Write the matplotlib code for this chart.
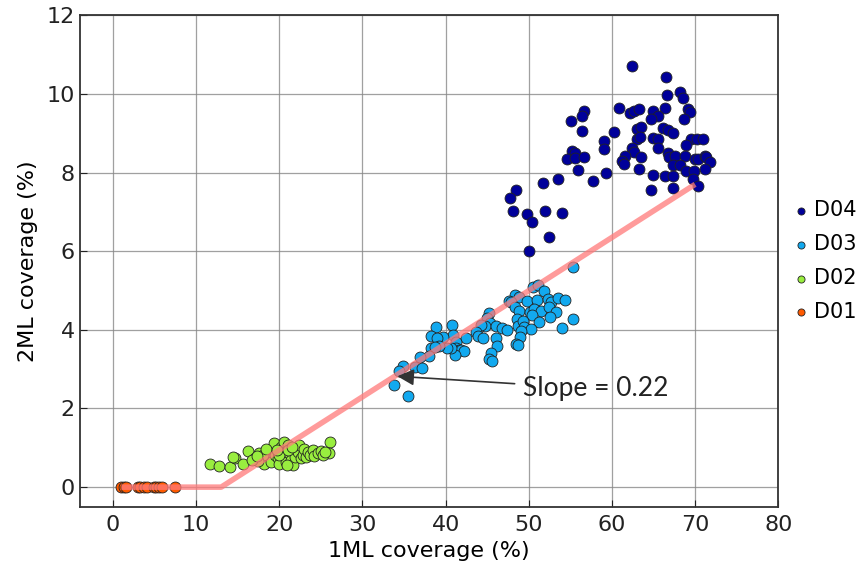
import numpy as np
import matplotlib
matplotlib.use("Agg")
import matplotlib.pyplot as plt

# Datos (x = cobertura 1ML %, y = cobertura 2ML %)
d01_x = [1.0, 1.3, 1.6, 3.0, 3.3, 3.7, 4.1, 4.9, 5.2, 5.5, 5.9, 7.4]
d01_y = [0.0] * len(d01_x)

d02_x = [11.7, 12.7, 14.1, 16.2, 14.7, 14.4, 15.6, 26.1, 26.0, 17.1, 17.6, 17.8,
         18.2, 18.6, 18.8, 19.0, 19.2, 19.4, 19.5, 19.8, 19.9, 20.2, 20.4, 20.6,
         20.7, 20.8, 21.1, 21.2, 21.4, 21.6, 21.8, 21.9, 22.2, 22.4, 22.6, 22.8,
         23.0, 23.2, 23.4, 23.7, 24.0, 24.2, 24.6, 25.0, 25.2, 25.5, 18.0, 17.4,
         16.7, 17.3, 18.4, 20.0, 19.7, 21.0, 21.5, 20.9]
d02_y = [0.59, 0.54, 0.52, 0.92, 0.73, 0.77, 0.59, 1.14, 0.88, 0.73, 0.86, 0.73,
         0.60, 0.90, 0.77, 0.64, 0.98, 1.11, 0.83, 0.73, 0.58, 1.03, 0.90, 1.15,
         0.77, 0.64, 1.07, 0.86, 0.68, 0.56, 0.98, 0.77, 0.90, 1.07, 0.73, 0.83,
         0.96, 0.77, 0.90, 0.83, 0.94, 0.80, 0.86, 0.92, 0.83, 0.90, 0.81, 0.66,
         0.69, 0.79, 0.98, 0.81, 0.94, 0.94, 1.03, 0.56]

d03_x = [55.3, 50.5, 51.1, 51.8, 48.3, 48.8, 47.6, 47.9, 49.8, 51.0, 52.3, 52.7,
         53.5, 54.3, 48.3, 48.8, 50.1, 50.6, 51.5, 52.4, 53.3, 52.5, 50.4, 51.2,
         55.3, 54.0, 48.6, 48.7, 49.3, 49.4, 50.3, 49.1, 49.0, 48.5, 48.7, 45.2,
         45.0, 45.3, 44.7, 44.2, 43.6, 43.9, 44.5, 46.1, 46.8, 47.4, 46.0, 46.2,
         45.4, 45.2, 45.6, 42.4, 40.8, 40.9, 41.2, 41.3, 41.6, 41.9, 42.2, 41.1,
         40.6, 40.2, 38.9, 38.2, 39.7, 39.0, 39.2, 38.2, 38.7, 38.0, 36.9, 36.3,
         37.1, 34.9, 34.4, 33.8, 35.5]
d03_y = [5.59, 5.10, 5.14, 5.00, 4.89, 4.84, 4.74, 4.72, 4.74, 4.76, 4.78, 4.72,
         4.82, 4.76, 4.59, 4.48, 4.46, 4.52, 4.49, 4.59, 4.46, 4.33, 4.38, 4.21,
         4.27, 4.04, 4.27, 4.10, 4.22, 4.08, 4.01, 3.98, 3.82, 3.64, 3.61, 4.42,
         4.29, 4.18, 4.10, 4.12, 3.95, 3.84, 3.78, 4.10, 4.04, 3.99, 3.78, 3.59,
         3.40, 3.27, 3.21, 3.78, 4.12, 3.87, 3.70, 3.53, 3.49, 3.49, 3.46, 3.36,
         3.55, 3.53, 4.06, 3.84, 3.81, 3.78, 3.59, 3.55, 3.57, 3.33, 3.32, 3.05,
         3.02, 3.08, 2.96, 2.60, 2.32]

d04_x = [62.4, 66.5, 66.6, 68.2, 68.6, 60.9, 62.2, 62.6, 63.2, 66.4, 65.0, 65.6,
         64.7, 69.2, 69.4, 68.7, 56.6, 56.4, 55.1, 56.4, 60.2, 63.0, 63.5, 66.2,
         66.7, 67.3, 63.0, 63.4, 65.0, 65.6, 69.5, 70.2, 71.0, 59.1, 59.1, 62.4,
         62.7, 65.5, 68.9, 55.2, 55.5, 54.6, 55.5, 56.7, 61.6, 61.2, 61.4, 63.5,
         66.8, 66.9, 67.6, 68.8, 70.0, 70.4, 71.2, 71.3, 71.8, 71.2, 63.3, 67.4,
         68.2, 68.9, 69.9, 55.9, 59.3, 65.0, 66.4, 67.4, 69.8, 70.3, 67.3, 64.7,
         57.7, 53.5, 51.7, 48.5, 47.7, 48.1, 49.8, 50.4, 51.9, 54.0, 52.4, 50.0]
d04_y = [10.72, 10.44, 9.97, 10.06, 9.89, 9.65, 9.51, 9.57, 9.61, 9.64, 9.57, 9.45,
         9.36, 9.61, 9.55, 9.36, 9.57, 9.45, 9.31, 9.06, 9.02, 9.11, 9.17, 9.14,
         9.08, 9.00, 8.85, 8.90, 8.87, 8.86, 8.86, 8.86, 8.86, 8.79, 8.61, 8.63,
         8.53, 8.62, 8.69, 8.55, 8.49, 8.35, 8.36, 8.39, 8.42, 8.30, 8.22, 8.39,
         8.49, 8.39, 8.42, 8.41, 8.35, 8.35, 8.42, 8.39, 8.26, 8.09, 8.09, 8.19,
         8.18, 8.05, 8.05, 8.07, 8.00, 7.94, 7.90, 7.91, 7.83, 7.67, 7.60, 7.56,
         7.79, 7.84, 7.73, 7.56, 7.35, 7.03, 6.95, 6.75, 7.03, 6.98, 6.37, 6.01]

# Ajuste por tramos
ajuste_x = [1.0, 13.0, 70.0]
ajuste_y = [0.0, 0.0, 7.7]

series = [
    ("D01", d01_x, d01_y, "#ff5a00"),
    ("D02", d02_x, d02_y, "#99ee3f"),
    ("D03", d03_x, d03_y, "#12a9ef"),
    ("D04", d04_x, d04_y, "#00009a"),
]

fig = plt.figure(figsize=(8.58, 5.65), dpi=100)
ax = fig.add_axes([0.093, 0.103, 0.814, 0.870])

ax.plot(ajuste_x, ajuste_y, color="#ff7a7a", alpha=0.75, lw=4, zorder=3,
        solid_capstyle="butt")

handles = {}
for nombre, xs, ys, color in series:
    h = ax.scatter(xs, ys, s=62, c=color, edgecolors="#222222", linewidths=0.6,
                   label=nombre, zorder=2)
    handles[nombre] = h

ax.annotate("Slope = 0.22", xy=(34.2, 2.82), xytext=(49.3, 2.5),
            fontsize=19, family="Lato", ha="left", va="center", color="#222222",
            arrowprops=dict(arrowstyle="-|>", color="#333333", lw=1.2,
                            mutation_scale=25, shrinkA=4, shrinkB=0),
            zorder=5)

ax.set_xlim(-4, 80)
ax.set_ylim(-0.5, 12)
ax.set_xticks(np.arange(0, 81, 10))
ax.set_yticks(np.arange(0, 13, 2))
ax.grid(True, color="#888888", lw=0.9, alpha=0.8)
ax.set_axisbelow(True)
ax.tick_params(direction="in", labelsize=16, colors="#222222", length=5)
ax.tick_params(axis="x", pad=6)
for sp in ax.spines.values():
    sp.set_color("#333333")
    sp.set_linewidth(1.3)

ax.set_xlabel("1ML coverage (%)", fontsize=16, labelpad=4)
ax.set_ylabel("2ML coverage (%)", fontsize=16, labelpad=6)

orden = ["D04", "D03", "D02", "D01"]
ax.legend([handles[n] for n in orden], orden, loc="center left",
          bbox_to_anchor=(1.0, 0.5), frameon=False, fontsize=15,
          markerscale=0.65, handlelength=0.8, handletextpad=0.2,
          borderaxespad=0.3, labelspacing=0.67)

fig.savefig("out.png", dpi=100)
plt.close(fig)
